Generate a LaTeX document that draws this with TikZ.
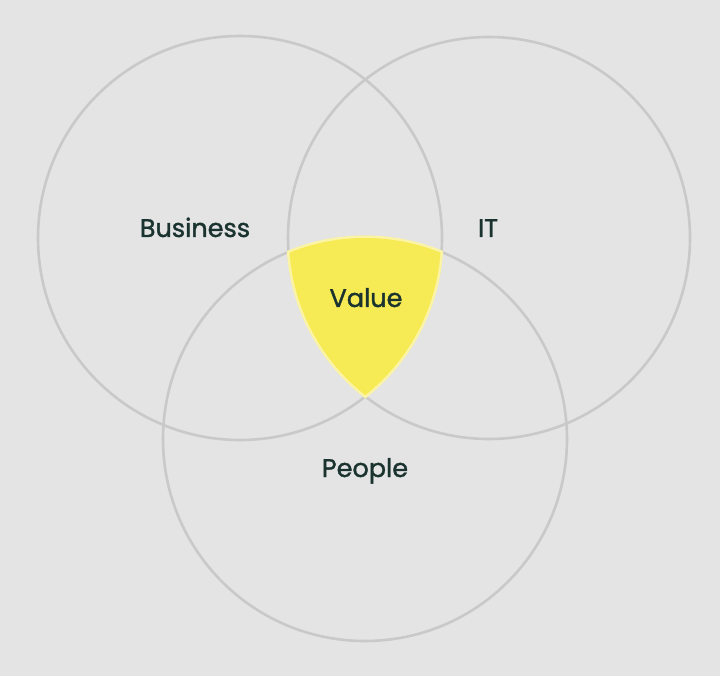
\documentclass[tikz,border=0pt]{standalone}
\usepackage{fontspec}
\setmainfont{Poppins}[FakeBold=1.4]
\definecolor{bgGrey}{HTML}{E4E4E4}
\definecolor{ringGrey}{HTML}{C9C9C9}
\definecolor{valueYellow}{HTML}{F6EB55}
\definecolor{valueEdge}{HTML}{FBF4A6}
\definecolor{labelInk}{HTML}{1A332F}
\tikzset{
	ring/.style={draw=ringGrey, line width=2.6pt},
	label/.style={text=labelInk, font=\fontsize{25.5}{30}\selectfont, anchor=base, inner sep=0pt}
}
\begin{document}
\begin{tikzpicture}[x=1pt,y=-1pt]
	\fill[bgGrey] (0,0) rectangle (720,676);
	\useasboundingbox (0,0) rectangle (720,676);
	%
	\coordinate (cBusiness) at (240,238);
	\coordinate (cIT) at (489,238);
	\coordinate (cPeople) at (365,439);
	%
	\draw[ring] (cBusiness) circle (202pt);
	\draw[ring] (cIT) circle (201pt);
	\draw[ring] (cPeople) circle (202pt);
	%
	% light rim of the value area
	\begin{scope}
		\clip (cBusiness) circle (203.6pt);
		\clip (cIT) circle (202.6pt);
		\fill[valueEdge] (cPeople) circle (203.6pt);
	\end{scope}
	\begin{scope}
		\clip (cBusiness) circle (201pt);
		\clip (cIT) circle (200pt);
		\fill[valueYellow] (cPeople) circle (201pt);
	\end{scope}
	%
	\node[label] (business) at (195,237) {Business};
	\node[label] (it) at (488,237) {IT};
	\node[label] (value) at (366,307) {Value};
	\node[label] (people) at (365,477) {People};
\end{tikzpicture}
\end{document}
